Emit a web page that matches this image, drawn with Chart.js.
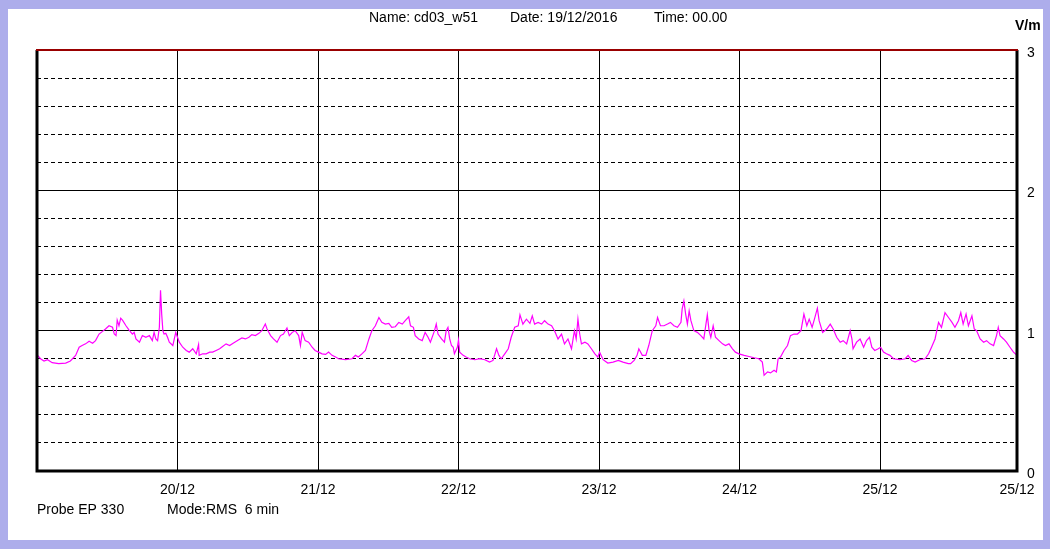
<!DOCTYPE html>
<html><head><meta charset="utf-8">
<script src="https://cdn.jsdelivr.net/npm/chart.js@4"></script>
<style>html,body{margin:0;padding:0;background:#fff;overflow:hidden}</style>
</head><body><canvas id="c" width="1050" height="549"></canvas>
<script>
const hours = [0.1,0.6,1.2,1.8,2.6,3.7,4.9,5.7,6.6,7.2,7.7,8.3,8.9,9.5,10.0,10.6,11.2,11.7,12.3,12.9,13.2,13.5,13.7,14.0,14.3,14.6,15.2,15.7,16.3,16.6,16.9,17.5,18.0,18.6,19.2,19.7,20.0,20.3,20.6,20.9,21.1,21.3,21.5,21.7,22.0,22.3,22.6,23.2,23.7,24.0,24.3,24.9,25.5,26.0,26.6,27.2,27.6,27.7,28.3,28.9,29.5,30.0,30.6,31.2,31.7,32.3,32.9,33.5,
34.4,35.0,35.6,36.2,36.7,37.3,37.9,38.4,39.0,39.3,39.9,40.4,41.0,41.6,42.1,42.7,43.1,43.6,44.1,44.7,45.0,45.3,45.8,46.4,47.0,47.5,48.1,48.7,49.3,49.8,50.4,51.0,51.5,52.7,53.8,54.4,54.9,55.5,56.1,56.7,57.2,57.8,58.4,58.9,59.5,60.1,60.6,61.2,61.8,62.4,62.9,63.5,63.8,64.3,64.6,65.2,65.8,66.3,
66.8,67.2,67.6,67.9,68.2,68.5,69.1,69.6,69.9,70.2,70.5,70.8,71.1,71.3,71.8,72.0,72.2,72.8,73.3,73.9,74.8,75.6,76.5,77.3,77.9,78.5,78.9,79.3,79.9,80.5,81.0,81.6,82.2,82.5,83.0,83.6,84.2,84.6,85.0,85.6,86.2,86.7,87.3,87.9,88.4,89.0,89.6,90.1,90.7,91.3,91.8,92.1,92.4,92.7,93.0,93.6,94.1,94.7,95.3,95.8,96.1,96.7,97.5,98.4,99.3,100.1,
101.0,101.4,102.0,102.5,102.8,103.4,104.0,104.5,105.1,105.7,106.0,106.5,107.1,107.7,108.2,108.8,109.4,110.0,110.2,110.5,110.8,111.1,111.4,111.7,112.2,112.8,113.4,113.9,114.5,114.8,115.1,115.5,115.9,116.5,117.1,117.6,118.2,118.8,119.3,119.9,120.8,121.6,122.5,123.3,123.9,124.2,124.8,125.3,125.9,126.3,126.6,127.0,127.6,128.2,128.7,129.3,129.9,130.5,131.0,131.5,131.9,132.4,132.8,133.3,133.6,
134.2,134.9,135.5,136.0,136.6,137.2,137.7,138.3,138.9,139.2,139.4,140.0,140.6,141.2,141.7,142.2,142.6,143.1,143.7,144.1,144.6,145.1,145.7,146.3,147.4,148.3,148.8,149.4,150.0,150.8,151.7,152.3,152.8,153.4,153.7,154.0,154.5,155.1,155.7,156.3,156.8,157.4,157.8,158.2,158.7,159.1,159.7,160.1,160.5,161.1,161.7,162.2,162.8,163.4,163.9,164.2,164.5,165.1,165.6,166.2,166.8,167.4];
const fieldValues = [0.824,0.80,0.784,0.793,0.772,0.765,0.769,0.784,0.824,0.882,0.894,0.906,0.925,0.911,0.929,0.976,0.995,1.012,1.035,1.024,0.976,0.965,1.075,1.035,1.089,1.075,1.035,1.005,0.976,0.988,0.941,0.918,0.965,0.953,0.965,0.929,0.988,0.941,0.929,1.024,1.287,1.118,1.0,0.976,0.981,0.953,0.918,0.894,0.988,0.953,0.918,0.882,0.859,0.847,0.871,0.835,0.901,0.824,0.835,0.835,0.847,0.847,0.859,0.871,0.887,0.906,0.894,0.911,
0.934,0.948,0.941,0.953,0.972,0.965,0.981,1.0,1.047,1.012,0.965,0.941,0.918,0.965,0.976,1.019,0.965,0.988,1.0,0.965,0.894,0.988,0.929,0.918,0.882,0.859,0.847,0.835,0.831,0.847,0.824,0.812,0.80,0.793,0.80,0.824,0.812,0.835,0.859,0.941,1.0,1.035,1.094,1.059,1.047,1.052,1.024,1.028,1.059,1.047,1.071,1.099,1.035,1.024,0.965,0.941,0.929,0.988,
0.953,0.918,0.965,1.0,1.047,0.976,0.941,0.918,1.0,1.024,0.941,0.894,0.882,0.835,0.882,0.934,0.847,0.824,0.812,0.80,0.793,0.80,0.793,0.776,0.788,0.871,0.824,0.80,0.835,0.871,0.953,1.024,1.035,1.113,1.047,1.082,1.052,1.106,1.047,1.059,1.047,1.071,1.047,1.035,1.0,0.941,0.976,0.906,0.941,0.871,1.0,0.941,1.082,0.976,0.906,0.918,0.906,0.871,0.835,0.812,0.847,0.793,0.769,0.776,0.788,0.776,
0.765,0.765,0.788,0.824,0.871,0.824,0.824,0.894,1.0,1.035,1.094,1.035,1.035,1.047,1.059,1.035,1.024,1.059,1.153,1.212,1.118,1.047,1.141,1.071,1.0,0.988,0.965,0.941,1.113,1.0,0.953,1.035,0.953,0.929,0.906,0.894,0.906,0.871,0.847,0.835,0.824,0.816,0.807,0.80,0.776,0.682,0.706,0.699,0.718,0.706,0.80,0.812,0.859,0.894,0.965,0.976,0.976,1.0,1.118,1.035,1.082,1.024,1.082,1.160,1.071,
0.988,1.012,1.047,1.012,0.953,0.918,0.929,0.906,1.0,0.941,0.871,0.918,0.941,0.882,0.929,0.953,0.882,0.859,0.871,0.882,0.847,0.835,0.824,0.80,0.793,0.80,0.824,0.788,0.776,0.793,0.80,0.835,0.882,0.941,1.0,1.059,1.024,1.129,1.094,1.059,1.024,1.071,1.129,1.047,1.118,1.035,1.106,1.012,1.0,0.941,0.918,0.929,0.906,0.894,0.965,1.024,0.965,0.941,0.918,0.882,0.847,0.824];
const dayTickHours = [24,48,72,96,120,144,167.4];
const dayTickLabels = ['20/12','21/12','22/12','23/12','24/12','25/12','25/12'];
const yMajorTicks = [0,1,2,3];
const yMinorTicks = [0.2,0.4,0.6,0.8,1.2,1.4,1.6,1.8,2.2,2.4,2.6,2.8];
const headerTexts = ['Name: cd03_w51','Date: 19/12/2016','Time: 00.00'];
const footerTexts = ['Probe EP 330','Mode:RMS  6 min'];
const unitLabel = 'V/m';

const FONT = '"Liberation Sans", Arial, sans-serif';

const framePlugin = {
  id: 'frame',
  beforeDraw(chart) {
    const ctx = chart.ctx;
    ctx.save();
    ctx.fillStyle = '#adadeb';
    ctx.fillRect(0, 0, chart.width, chart.height);
    ctx.fillStyle = '#ffffff';
    ctx.fillRect(8, 9, 1035, 531);
    ctx.restore();
  },
  afterDraw(chart) {
    const ctx = chart.ctx;
    const a = chart.chartArea;
    ctx.save();
    ctx.lineWidth = 3;
    ctx.strokeStyle = '#000';
    ctx.beginPath();
    ctx.moveTo(a.left, a.top); ctx.lineTo(a.left, a.bottom); ctx.lineTo(a.right, a.bottom); ctx.lineTo(a.right, a.top);
    ctx.stroke();
    ctx.lineWidth = 2;
    ctx.strokeStyle = '#990000';
    ctx.beginPath();
    ctx.moveTo(a.left - 1, a.top); ctx.lineTo(a.right + 1, a.top);
    ctx.stroke();
    ctx.fillStyle = '#000';
    ctx.textBaseline = 'middle';
    ctx.textAlign = 'left';
    ctx.font = '14px ' + FONT;
    const hx = [369, 510, 654];
    headerTexts.forEach((t, i) => ctx.fillText(t, hx[i], 18));
    const fx = [37, 167];
    footerTexts.forEach((t, i) => ctx.fillText(t, fx[i], 510));
    ctx.font = 'bold 14px ' + FONT;
    ctx.fillText(unitLabel, 1015, 26);
    ctx.restore();
  }
};

new Chart(document.getElementById('c'), {
  type: 'line',
  data: {
    datasets: [{
      data: hours.map((h, i) => ({x: h, y: fieldValues[i]})),
      borderColor: '#ff00ff',
      borderWidth: 1.2,
      pointRadius: 0,
      tension: 0,
      fill: false
    }]
  },
  options: {
    responsive: false,
    devicePixelRatio: 1,
    animation: false,
    layout: {padding: {left: 37, top: 50, right: 0, bottom: 0}},
    plugins: {legend: {display: false}, tooltip: {enabled: false}, title: {display: false}},
    scales: {
      x: {
        type: 'linear', position: 'bottom', min: 0, max: 167.4,
        afterBuildTicks: s => { s.ticks = dayTickHours.map(v => ({value: v})); },
        afterFit: s => { s.height = 78; },
        ticks: {
          callback: (v, i) => dayTickLabels[i],
          color: '#000', font: {family: FONT, size: 14},
          padding: 11, maxRotation: 0, autoSkip: false
        },
        grid: {color: '#000', lineWidth: 1, drawTicks: false},
        border: {display: false}
      },
      y: {
        position: 'right', min: 0, max: 3,
        afterBuildTicks: s => { s.ticks = yMajorTicks.map(v => ({value: v})); },
        afterFit: s => { s.width = 33; },
        ticks: {color: '#000', font: {family: FONT, size: 14}, padding: 10, labelOffset: 3},
        grid: {color: '#000', lineWidth: 1, drawTicks: false},
        border: {display: false}
      },
      y2: {
        position: 'left', min: 0, max: 3,
        afterBuildTicks: s => { s.ticks = yMinorTicks.map(v => ({value: v})); },
        afterFit: s => { s.width = 0; },
        ticks: {display: false},
        grid: {color: '#000', lineWidth: 1, drawTicks: false},
        border: {display: false, dash: [4, 3]}
      }
    }
  },
  plugins: [framePlugin]
});
</script>
</body></html>
